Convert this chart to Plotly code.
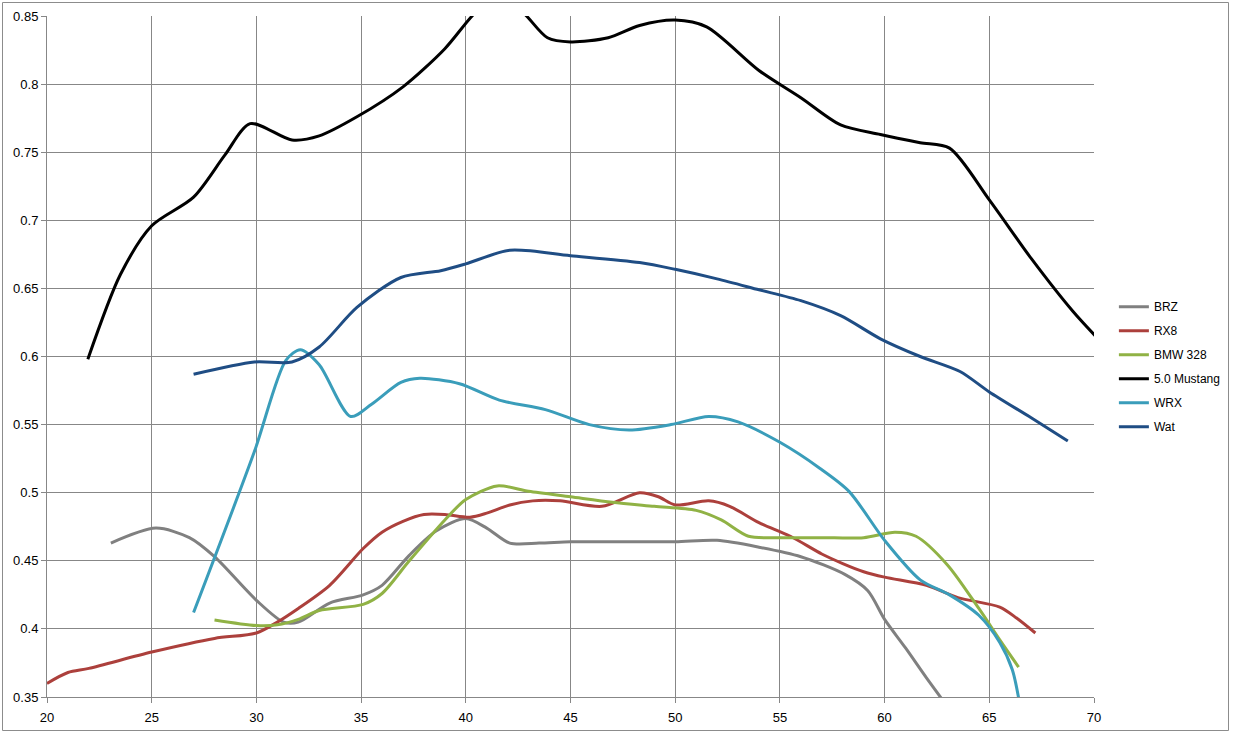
import plotly.graph_objects as go

x_ticks = [20, 25, 30, 35, 40, 45, 50, 55, 60, 65, 70]
y_ticks = [0.35, 0.4, 0.45, 0.5, 0.55, 0.6, 0.65, 0.7, 0.75, 0.8, 0.85]
y_tick_labels = ["0.35", "0.4", "0.45", "0.5", "0.55", "0.6", "0.65", "0.7", "0.75", "0.8", "0.85"]

brz_x = [23.05, 25.2, 26.8, 28.0, 30.0, 31.3, 32.0, 33.5, 35.1, 36.0, 37.3, 38.6, 40.0, 41.0, 42.1, 43.5, 45, 47, 50, 52, 54, 56, 58.1, 59.2, 60.0, 61.0, 62.0, 63.0]
brz_y = [0.463, 0.474, 0.467, 0.453, 0.421, 0.405, 0.405, 0.419, 0.425, 0.432, 0.454, 0.472, 0.481, 0.474, 0.463, 0.463, 0.464, 0.464, 0.464, 0.465, 0.460, 0.453, 0.440, 0.428, 0.407, 0.386, 0.364, 0.343]

rx8_x = [20.0, 21.0, 22.0, 25.0, 28.0, 30.0, 31.0, 32.0, 33.5, 35.1, 36.0, 37.0, 38.0, 39.0, 40.2, 41.0, 42.1, 43.2, 44.5, 46.5, 48.3, 49.2, 50.0, 51.6, 52.6, 54.0, 55.5, 57.0, 58.0, 59.0, 60.0, 62.0, 63.5, 65.5, 66.3, 67.2]
rx8_y = [0.360, 0.368, 0.371, 0.383, 0.393, 0.397, 0.405, 0.415, 0.432, 0.459, 0.471, 0.479, 0.484, 0.484, 0.482, 0.485, 0.491, 0.494, 0.494, 0.490, 0.500, 0.497, 0.491, 0.494, 0.490, 0.478, 0.468, 0.455, 0.448, 0.442, 0.438, 0.432, 0.423, 0.416, 0.408, 0.397]

bmw_x = [28.0, 30.0, 31.0, 32.0, 33.0, 35.1, 36.0, 37.3, 39.0, 40.0, 41.5, 43.0, 45, 47, 49, 51.0, 52.2, 53.5, 55, 57, 59, 60.5, 61.5, 63.0, 64.5, 65.5, 66.4]
bmw_y = [0.4066, 0.4025, 0.403, 0.407, 0.4135, 0.418, 0.426, 0.450, 0.480, 0.495, 0.505, 0.501, 0.497, 0.493, 0.490, 0.487, 0.480, 0.468, 0.467, 0.467, 0.467, 0.471, 0.468, 0.447, 0.415, 0.392, 0.372]

mustang_x = [21.95, 23.5, 25.0, 27.0, 28.5, 29.7, 31.7, 33.0, 34.8, 37.0, 39.0, 40.3, 41.6, 42.9, 43.9, 45.0, 46.8, 48.3, 50.0, 51.5, 54.0, 56.0, 57.9, 59.8, 61.7, 63.1, 65.0, 67.0, 69.0, 70.5]
mustang_y = [0.598, 0.660, 0.696, 0.717, 0.748, 0.771, 0.759, 0.762, 0.776, 0.798, 0.826, 0.850, 0.869, 0.850, 0.834, 0.831, 0.834, 0.843, 0.847, 0.842, 0.810, 0.790, 0.770, 0.763, 0.757, 0.753, 0.715, 0.672, 0.633, 0.608]

wrx_x = [27.0, 29.9, 31.4, 32.1, 33.0, 34.5, 35.5, 36.9, 37.8, 39.7, 41.6, 43.8, 45.9, 47.8, 49.8, 51.6, 53.0, 55.0, 56.9, 58.3, 60.0, 61.7, 63.1, 64.5, 65.5, 66.1, 66.45]
wrx_y = [0.412, 0.530, 0.597, 0.605, 0.594, 0.556, 0.565, 0.581, 0.584, 0.580, 0.568, 0.561, 0.550, 0.546, 0.550, 0.556, 0.552, 0.537, 0.518, 0.501, 0.465, 0.436, 0.425, 0.410, 0.390, 0.370, 0.345]

wat_x = [27.0, 29.9, 31.7, 33.0, 34.8, 36.9, 38.8, 40.0, 42.1, 45.0, 48.3, 50.0, 52.0, 54.0, 56.0, 57.9, 59.8, 61.7, 63.6, 65.0, 67.0, 68.75]
wat_y = [0.587, 0.596, 0.596, 0.607, 0.636, 0.658, 0.663, 0.668, 0.678, 0.674, 0.669, 0.664, 0.657, 0.649, 0.641, 0.630, 0.613, 0.600, 0.589, 0.574, 0.555, 0.538]

series = [
    ("BRZ", brz_x, brz_y, "#808080"),
    ("RX8", rx8_x, rx8_y, "#AC403C"),
    ("BMW 328", bmw_x, bmw_y, "#90B245"),
    ("5.0 Mustang", mustang_x, mustang_y, "#000000"),
    ("WRX", wrx_x, wrx_y, "#3A9DBA"),
    ("Wat", wat_x, wat_y, "#1F4D84"),
]

fig = go.Figure()
for name, xs, ys, col in series:
    fig.add_trace(go.Scatter(
        x=xs, y=ys, name=name, mode="lines", legendgroup=name,
        line=dict(color=col, width=3, shape="spline", smoothing=0.8),
    ))

grid = "#878787"
font = dict(family="Liberation Sans, Arial, sans-serif", size=13, color="#000000")

fig.update_layout(
    width=1235, height=733,
    margin=dict(l=47, r=141, t=16, b=36, autoexpand=False),
    paper_bgcolor="white", plot_bgcolor="white",
    font=font,
    showlegend=True,
    legend=dict(x=1.019, xanchor="left", y=0.485, yanchor="middle",
                tracegroupgap=5, font=dict(size=12, family=font["family"], color="#000"),
                bgcolor="rgba(0,0,0,0)", itemwidth=30),
    xaxis=dict(range=[20, 70], tickvals=x_ticks, showgrid=True, gridcolor=grid, gridwidth=1,
               showline=True, linecolor=grid, linewidth=1, ticks="outside", ticklen=5,
               tickcolor=grid, zeroline=False, tickfont=font, ticklabelstandoff=3,
               automargin=False),
    yaxis=dict(range=[0.35, 0.85], tickvals=y_ticks, ticktext=y_tick_labels, showgrid=True,
               gridcolor=grid, gridwidth=1, showline=True, linecolor=grid, linewidth=1,
               ticks="outside", ticklen=5, tickcolor=grid, zeroline=False, tickfont=font,
               automargin=False),
    shapes=[dict(type="rect", xref="paper", yref="paper",
                 x0=(2.5 - 47) / 1047, x1=(1228.5 - 47) / 1047,
                 y0=(697 - 730.5) / 681, y1=(697 - 2.5) / 681,
                 line=dict(color="#8c8c8c", width=1), fillcolor="rgba(0,0,0,0)", layer="below")],
)

fig.write_html(
    "out.html",
    config={"displayModeBar": False},
    post_script="document.body.style.margin='0';document.body.style.padding='0';document.body.style.overflow='hidden';",
)
